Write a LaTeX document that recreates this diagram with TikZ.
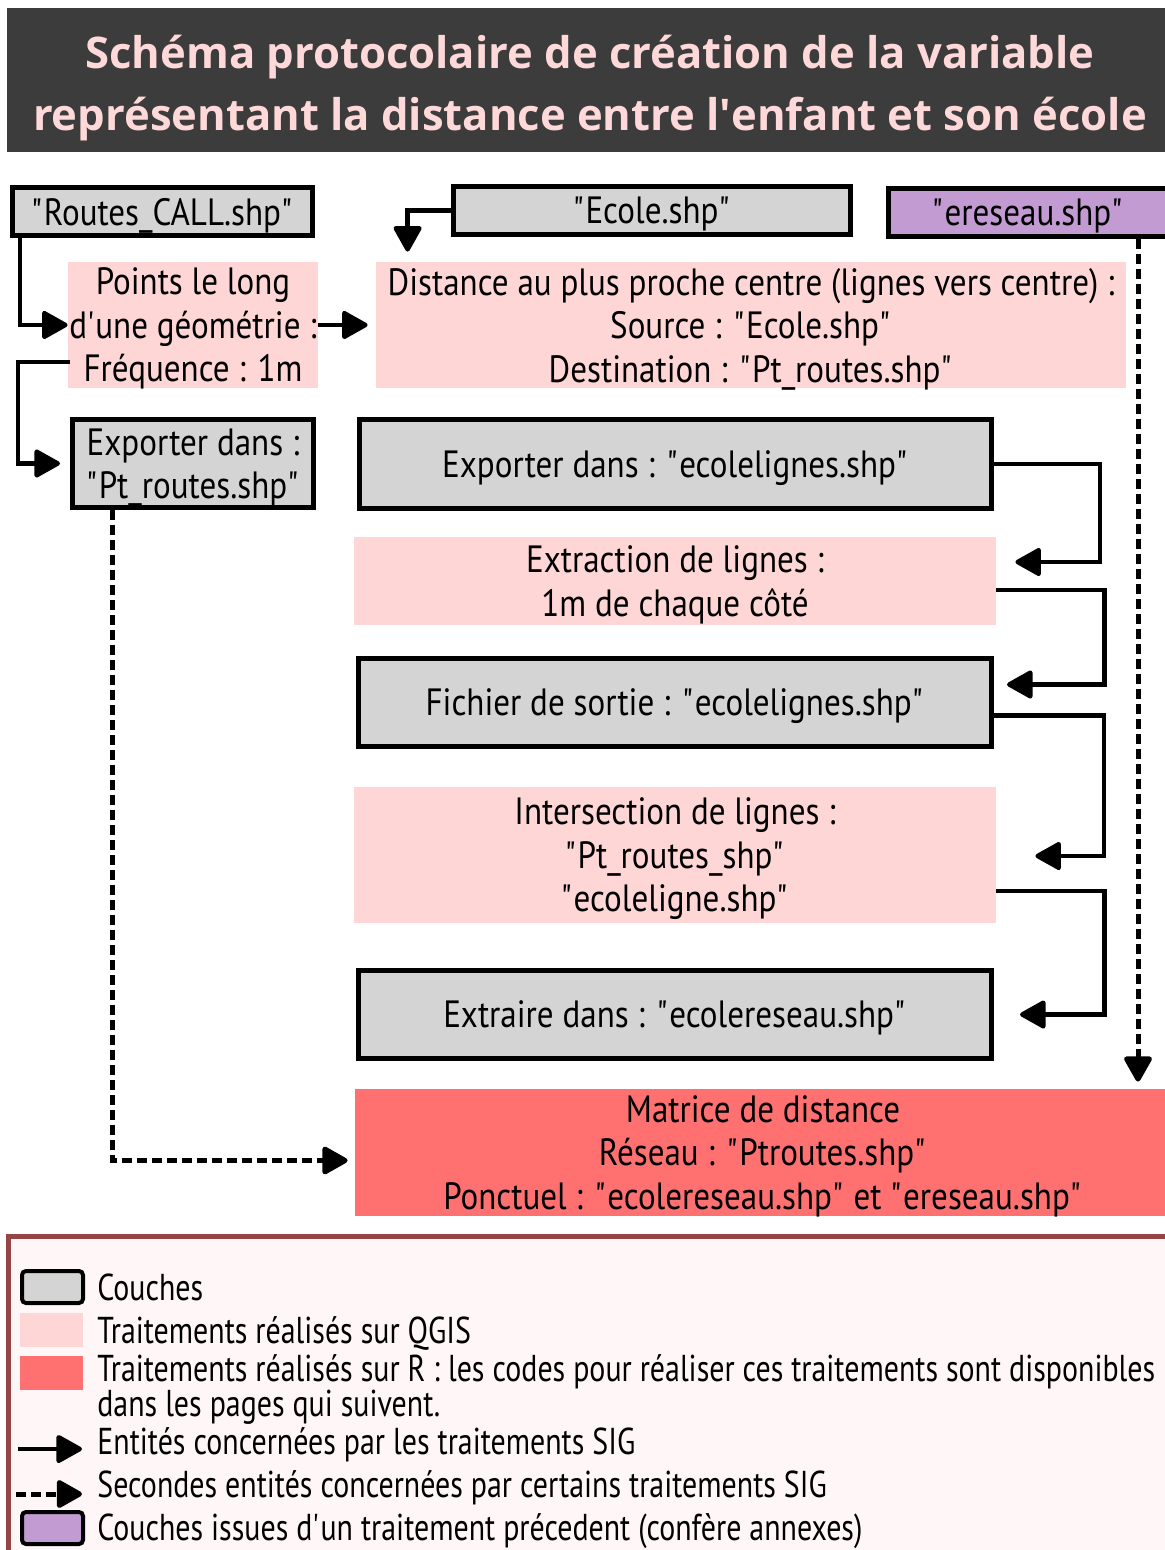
\documentclass[tikz,border=0pt]{standalone}
\usepackage{fontspec}
\setmainfont{PT Sans}[FakeStretch=0.87]
\newfontfamily\legfont{PT Sans}[FakeStretch=0.8]
\newfontfamily\titlefont{Open Sans}
\usetikzlibrary{arrows.meta,calc}
\definecolor{laygray}{HTML}{D4D4D4}
\definecolor{procpink}{HTML}{FFD6D6}
\definecolor{procred}{HTML}{FF7070}
\definecolor{laypurple}{HTML}{C39BD3}
\definecolor{titlebg}{HTML}{3C3C3C}
\definecolor{titletxt}{HTML}{FFD9D9}
\definecolor{legborder}{HTML}{954545}
\definecolor{legfill}{HTML}{FFF7F7}
\newcommand{\q}{\textquotesingle}
\newcommand{\qd}{\textquotedbl}
\tikzset{
  bodyfont/.style={font=\fontsize{19}{21.75}\selectfont},
  layer/.style={draw=black, line width=2.5pt, fill=laygray, inner sep=0pt, align=center, bodyfont, text depth=0pt},
  proc/.style={fill=procpink, inner sep=0pt, align=center, bodyfont, text depth=0pt},
  rproc/.style={fill=procred, inner sep=0pt, align=center, bodyfont, text depth=0pt},
  arr/.style={line width=2.2pt, -{Triangle[length=14pt,width=15pt,round]}},
  dasharr/.style={arr, line width=2.5pt, dash pattern=on 5pt off 2.5pt},
  legtext/.style={anchor=base west, inner sep=0pt, font=\legfont\fontsize{18.7}{21}\selectfont},
}
\begin{document}
\begin{tikzpicture}[x=0.5pt,y=-0.5pt]
\useasboundingbox (0,0) rectangle (1165,1550);
\clip (0,0) rectangle (1165,1550);
% title
\node[fill=titlebg, minimum width=581.5pt, minimum height=72pt, inner sep=0pt] (titlebar) at (588.5,80) {};
\node[text=titletxt, align=center, font=\titlefont\bfseries\fontsize{21.8}{31}\selectfont] (title) at (590,88)
  {Schéma protocolaire de création de la variable\\représentant la distance entre l\q enfant et son école};

% layers and processes
\node[layer, minimum width=150pt, minimum height=24pt] (routes) at (162.5,211.5) {\qd Routes\_CALL.shp\qd};
\node[layer, minimum width=198.5pt, minimum height=24pt] (ecole) at (652,210.5) {\qd Ecole.shp\qd};
\node[layer, fill=laypurple, minimum width=139.5pt, minimum height=24pt] (ereseau) at (1028,212.5) {\qd ereseau.shp\qd};
\node[proc, minimum width=125pt, minimum height=63pt] (points) at (193,325) {Points le long\\d\q une géométrie :\\Fréquence : 1m};
\node[proc, minimum width=375pt, minimum height=63pt] (distance) at (751,325) {Distance au plus proche centre (lignes vers centre) :\\Source : \qd Ecole.shp\qd\\Destination : \qd Pt\_routes.shp\qd};
\node[layer, minimum width=120.5pt, minimum height=44pt] (exp1) at (193,463.5) {Exporter dans :\\\qd Pt\_routes.shp\qd};
\node[layer, minimum width=316pt, minimum height=44.5pt] (exp2) at (675.5,464) {Exporter dans : \qd ecolelignes.shp\qd};
\node[proc, minimum width=321pt, minimum height=44pt] (extraction) at (675,581) {Extraction de lignes :\\1m de chaque côté};
\node[layer, minimum width=316.5pt, minimum height=44pt] (fichier) at (675,702.5) {Fichier de sortie : \qd ecolelignes.shp\qd};
\node[proc, minimum width=321pt, minimum height=68pt] (intersection) at (675,855) {Intersection de lignes :\\\qd Pt\_routes\_shp\qd\\\qd ecoleligne.shp\qd};
\node[layer, minimum width=316.5pt, minimum height=44pt] (extraire) at (675,1014.5) {Extraire dans : \qd ecolereseau.shp\qd};
\node[rproc, minimum width=408pt, minimum height=63.5pt] (matrice) at (763,1152.5) {Matrice de distance\\Réseau : \qd Ptroutes.shp\qd\\Ponctuel : \qd ecolereseau.shp\qd{} et \qd ereseau.shp\qd};

% connectors
\draw[arr] ($(routes.south west)+(10,0)$) |- (points.west);
\draw[arr, shorten >=4pt] (points.east) -- (distance.west);
\draw[arr] ($(points.west)+(2,37)$) -| ($(exp1.west)+(-52,0)$) -- ($(exp1.west)+(-10,0)$);
\draw[arr] (ecole.west) -| ($(distance.north west)+(32,-10)$);
\draw[arr] (exp2.east) -- ++(106,0) |- ($(extraction.east)+(19,-19)$);
\draw[arr] ($(extraction.east)+(0,9)$) -- ++(108,0) |- ($(fichier.east)+(13,-18)$);
\draw[arr] ($(fichier.east)+(0,13)$) -- ++(110,0) |- ($(intersection.east)+(39,1)$);
\draw[arr] ($(intersection.east)+(0,36)$) -- ++(108,0) |- ($(extraire.east)+(26,0)$);
\coordinate (e1) at ($(ereseau.south west)+(252,0)$);
\draw[dasharr] (e1) -- ($(e1 |- matrice.north)+(0,-7)$);
\draw[dasharr] ($(exp1.south west)+(42,0)$) |- ($(matrice.west)+(-7,8)$);

% legend
\node[draw=legborder, fill=legfill, line width=2.5pt, minimum width=586pt, minimum height=162pt, inner sep=0pt] (legend) at (594,1398) {};
\node[draw=black, fill=laygray, line width=2pt, rounded corners=2pt, minimum width=30.5pt, minimum height=16pt, inner sep=0pt] (sw1) at (52.5,1287) {};
\node[legtext] (l1) at (97,1300) {Couches};
\node[fill=procpink, minimum width=31.5pt, minimum height=17pt, inner sep=0pt] (sw2) at (51.5,1330) {};
\node[legtext] (l2) at (97,1343) {Traitements réalisés sur QGIS};
\node[fill=procred, minimum width=31.5pt, minimum height=17pt, inner sep=0pt] (sw3) at (51.5,1373) {};
\node[legtext] (l3) at (97,1381) {Traitements réalisés sur R : les codes pour réaliser ces traitements sont disponibles};
\node[legtext] (l3b) at (97,1416) {dans les pages qui suivent.};
\coordinate (a1s) at (18,1449);
\coordinate (a1e) at (82,1449);
\draw[arr] (a1s) -- (a1e);
\node[legtext] (l4) at (97,1454) {Entités concernées par les traitements SIG};
\coordinate (a2s) at (16,1494);
\coordinate (a2e) at (82,1494);
\draw[dasharr] (a2s) -- (a2e);
\node[legtext] (l5) at (97,1497) {Secondes entités concernées par certains traitements SIG};
\node[draw=black, fill=laypurple, line width=2pt, rounded corners=2pt, minimum width=30.5pt, minimum height=16pt, inner sep=0pt] (sw4) at (52.5,1528) {};
\node[legtext] (l6) at (97,1540) {Couches issues d\q un traitement précedent (confère annexes)};
\end{tikzpicture}
\end{document}
